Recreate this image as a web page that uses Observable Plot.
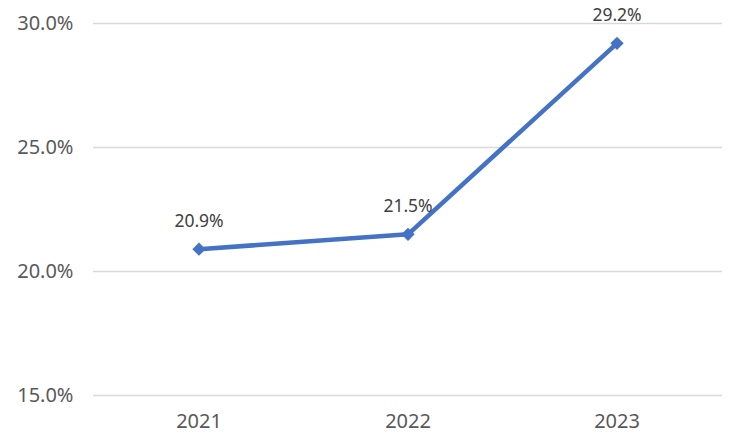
<!DOCTYPE html>
<html>
<head>
<meta charset="utf-8">
<script src="https://cdn.jsdelivr.net/npm/d3@7"></script>
<script src="https://cdn.jsdelivr.net/npm/@observablehq/plot@0.6"></script>
<style>
  html, body { margin: 0; padding: 0; background: #fff; }
  svg { display: block; }
</style>
</head>
<body>
<div id="chart"></div>
<script>
const years = ["2021", "2022", "2023"];
const values = [20.9, 21.5, 29.2];
const yTicks = [15, 20, 25, 30];

const data = years.map((y, i) => ({year: y, value: values[i]}));

const chart = Plot.plot({
  width: 746,
  height: 446,
  marginLeft: 93,
  marginRight: 24,
  marginTop: 23,
  marginBottom: 51,
  style: {fontFamily: "'Noto Sans', sans-serif", background: "#fff"},
  x: {type: "band", domain: years, padding: 0, label: null},
  y: {domain: [15, 30], ticks: yTicks, label: null},
  marks: [
    Plot.ruleY(yTicks, {stroke: "#d9d9d9", strokeWidth: 1.5}),
    Plot.axisY({ticks: yTicks, tickSize: 0, tickPadding: 20, tickFormat: d => d.toFixed(1) + "%", fontSize: 20, fill: "#595959", label: null}),
    Plot.axisX({tickSize: 0, tickPadding: 18.5, fontSize: 20, fill: "#595959", label: null}),
    Plot.line(data, {x: "year", y: "value", stroke: "#4472C4", strokeWidth: 4.5}),
    Plot.dot(data, {x: "year", y: "value", symbol: "diamond2", r: 6, fill: "#4472C4", stroke: "none"}),
    Plot.text(data, {x: "year", y: "value", text: d => d.value.toFixed(1) + "%", dy: -28, fontSize: 17.5, fill: "#404040"})
  ]
});
document.getElementById("chart").appendChild(chart);
</script>
</body>
</html>
